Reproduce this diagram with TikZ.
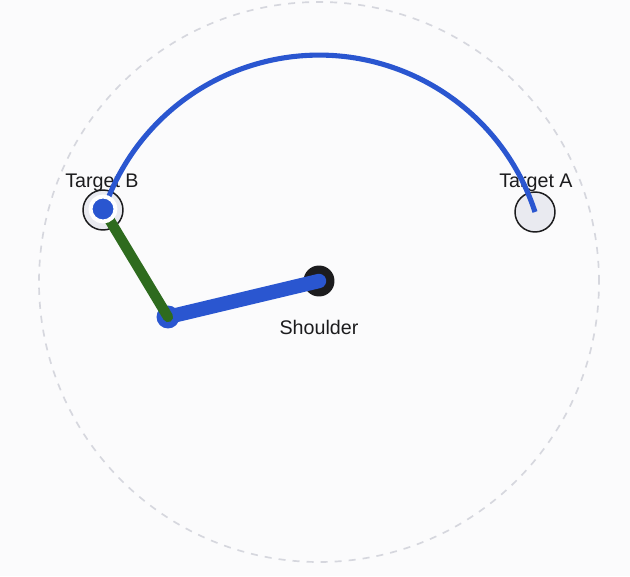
\documentclass[tikz,border=0pt]{standalone}
\usepackage{fontspec}
\setmainfont{Liberation Sans}
\definecolor{armblue}{RGB}{42,86,208}
\definecolor{armgreen}{RGB}{46,107,30}
\definecolor{reachgray}{RGB}{214,215,222}
\definecolor{targetfill}{RGB}{233,234,240}
\definecolor{bgpaper}{RGB}{251,251,252}
\definecolor{darkdot}{RGB}{28,28,30}
\begin{document}
\begin{tikzpicture}[x=0.02cm,y=0.02cm,
    target/.style={circle,draw=darkdot,line width=0.85pt,fill=targetfill,minimum size=0.8cm,inner sep=0pt},
    joint/.style={circle,inner sep=0pt},
    lbl/.style={anchor=base,font=\fontsize{11.2}{13}\selectfont,text=darkdot}]
  \fill[bgpaper] (0,0) rectangle (630,576);
  \useasboundingbox (0,0) rectangle (630,576);
  \draw[reachgray,line width=0.95pt,dash pattern=on 4pt off 4pt] (319,294) circle[radius=280];
  \node[target] (tA) at (535,364) {};
  \node[target] (tB) at (103,366) {};
  \node[lbl] at (536,389) {Target A};
  \node[lbl] at (102,389) {Target B};
  \draw[armblue,line width=2.9pt] (tA.center) arc[start angle=18,end angle=162,radius=227];
  \node[joint,fill=darkdot,minimum size=0.62cm] (sh) at (319,295) {};
  \node[lbl] at (319,242) {Shoulder};
  \node[joint,fill=armblue,minimum size=0.46cm] (el) at (168,259) {};
  \coordinate (hd) at (103,367);
  \draw[armblue,line width=8.2pt,line cap=round] (el.center) -- (sh.center);
  \draw[armgreen,line width=5.9pt,line cap=round] (el.center) -- (hd);
  \node[joint,fill=armblue,draw=white,line width=2.27pt,minimum size=0.5cm] (hand) at (hd) {};
\end{tikzpicture}
\end{document}
